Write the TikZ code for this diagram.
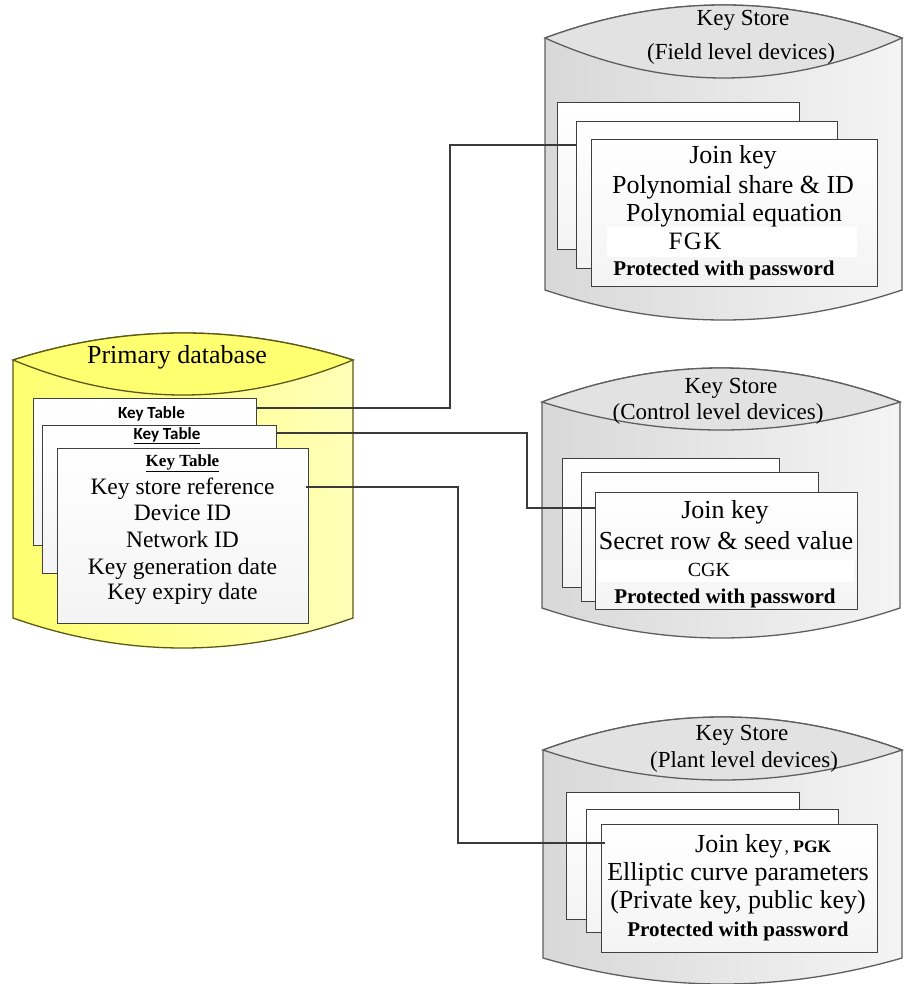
\documentclass[tikz,border=0pt]{standalone}
\usepackage{fontspec}
\setmainfont{Liberation Serif}
\newfontfamily\carl{Carlito}
\definecolor{cardline}{HTML}{404040}
\definecolor{storeline}{HTML}{5E5E5E}
\definecolor{dbline}{HTML}{5A5A14}
\definecolor{dbfill}{HTML}{FFFF70}
\definecolor{dbfill2}{HTML}{FFFFB8}
\definecolor{stfill}{HTML}{D8D8D8}
\definecolor{stfill2}{HTML}{F4F4F4}
\definecolor{stlensc}{HTML}{E2E2E2}
\definecolor{conn}{HTML}{3A3A3A}
\newcommand{\myBig}{\fontsize{26}{28}\selectfont}
\newcommand{\myMid}{\fontsize{23.5}{26}\selectfont}
\newcommand{\myTitle}{\fontsize{23}{25}\selectfont}
\newcommand{\myProt}{\fontsize{21}{23}\selectfont\bfseries}
\newcommand{\myKT}{\fontsize{17}{19}\selectfont\bfseries}
\newcommand{\mycyl}[9]{%
 \pgfmathsetmacro{\cyxa}{#1+(#2-#1)/3}%
 \pgfmathsetmacro{\cyxb}{#1+2*(#2-#1)/3}%
 \pgfmathsetmacro{\cyyt}{#3-4*#4/3}%
 \pgfmathsetmacro{\cyyf}{#3+4*#5/3}%
 \pgfmathsetmacro{\cyyb}{#6+4*#7/3}%
 \path[#8] (#1,#3) .. controls (\cyxa,\cyyt) and (\cyxb,\cyyt) .. (#2,#3) -- (#2,#6) .. controls (\cyxb,\cyyb) and (\cyxa,\cyyb) .. (#1,#6) -- cycle;
 \path[#9] (#1,#3) .. controls (\cyxa,\cyyt) and (\cyxb,\cyyt) .. (#2,#3) .. controls (\cyxb,\cyyf) and (\cyxa,\cyyf) .. (#1,#3) -- cycle;
}
\tikzset{
 card/.style={draw=cardline, line width=1.3pt, top color=white, bottom color=gray!9, anchor=north west, inner sep=0pt},
 dbbody/.style={draw=dbline, line width=1.3pt, left color=dbfill, right color=dbfill2},
 dblens/.style={draw=dbline, line width=1.3pt, left color=dbfill, middle color=dbfill2, right color=dbfill},
 stbody/.style={draw=storeline, line width=1.3pt, left color=stfill, right color=stfill2},
 stlens/.style={draw=storeline, line width=1.3pt, left color=stlensc, middle color=white, right color=stlensc},
 tB/.style={anchor=base, inner sep=0pt, yshift=-8.6pt, font=\myBig},
 tM/.style={anchor=base, inner sep=0pt, yshift=-7.8pt, font=\myMid},
 tT/.style={anchor=base, inner sep=0pt, yshift=-7.6pt, font=\myTitle},
 tP/.style={anchor=base, inner sep=0pt, yshift=-7pt, font=\myProt},
 tK/.style={anchor=base, inner sep=0pt, yshift=-5.6pt},
 wire/.style={draw=conn, line width=1.3pt},
}
\begin{document}
\begin{tikzpicture}[x=1pt,y=-1pt]
\useasboundingbox (0,0) rectangle (904,984);
% ---------- cylinders ----------
\mycyl{13}{353}{360}{27}{35}{618}{30}{dbbody}{dblens}
\mycyl{545}{902}{38}{33}{40}{290}{30}{stbody}{stlens}
\mycyl{542}{900}{402}{34}{28}{608}{30}{stbody}{stlens}
\mycyl{543}{902}{750}{33}{30}{958}{26}{stbody}{stlens}
% ---------- titles ----------
\node[tB] (ptitle) at (177,355) {Primary database};
\node[tT] (f1) at (743,18) {Key Store};
\node[tT] (f2) at (741,52) {(Field level devices)};
\node[tT] (c1) at (731,386) {Key Store};
\node[tT] (c2) at (718,412) {(Control level devices)};
\node[tT] (p1) at (742,733) {Key Store};
\node[tT] (p2) at (744,760) {(Plant level devices)};
% ---------- primary cards ----------
\node[card, minimum width=223pt, minimum height=147pt] (pA) at (33,398) {};
\node[tK] (pAt) at (151.5,413) {\carl\myKT Key Table};
\node[card, minimum width=234pt, minimum height=148pt] (pB) at (42,425) {};
\node[tK] (pBt) at (167,434) {\carl\myKT \underline{Key Table}};
\node[card, minimum width=251pt, minimum height=175pt] (pC) at (57,448) {};
\node[tK] (pCt) at (182.5,461) {\myKT \underline{Key Table}};
\node[tM] (pC1) at (182.5,487) {Key store reference};
\node[tM] (pC2) at (182.5,513) {Device ID};
\node[tM] (pC3) at (182.5,540) {Network ID};
\node[tM] (pC4) at (182.5,567) {Key generation date};
\node[tM] (pC5) at (182.5,592) {Key expiry date};
% ---------- field store cards ----------
\node[card, minimum width=242pt, minimum height=147pt] (fA) at (557,102) {};
\node[card, minimum width=261pt, minimum height=147pt] (fB) at (576,121) {};
\node[card, minimum width=286pt, minimum height=147pt] (fC) at (591,139) {};
\node[tB] (fC1) at (733,155) {Join key};
\node[tB] (fC2) at (733,185) {Polynomial share \& ID};
\node[tB] (fC3) at (734,213) {Polynomial equation};
\node[fill=white, minimum width=250pt, minimum height=29pt, inner sep=0pt] (fCbox) at (732,242) {};
\node[anchor=base, inner sep=0pt, yshift=-8.3pt, font=\fontsize{25}{27}\selectfont] (fC4) at (695,241) {F\kern1.5ptG\kern1.5ptK};
\node[tP] (fC5) at (724,268) {Protected with password};
% ---------- control store cards ----------
\node[card, minimum width=217pt, minimum height=129pt] (cA) at (562,458) {};
\node[card, minimum width=237pt, minimum height=129pt] (cB) at (581,472) {};
\node[card, minimum width=262pt, minimum height=117pt] (cC) at (595,492) {};
\node[tB] (cC1) at (725,510) {Join key};
\node[tB] (cC2) at (726,541) {Secret row \& seed value};
\node[fill=white, minimum width=256pt, minimum height=22pt, inner sep=0pt] (cCbox) at (726,571) {};
\node[anchor=base, inner sep=0pt, yshift=-6.6pt, font=\fontsize{20}{22}\selectfont] (cC3) at (709,570) {CGK};
\node[tP] (cC4) at (725,596) {Protected with password};
% ---------- plant store cards ----------
\node[card, minimum width=233pt, minimum height=127pt] (tA) at (566,792) {};
\node[card, minimum width=252pt, minimum height=123pt] (tB) at (586,809) {};
\node[card, minimum width=276pt, minimum height=128pt] (tC) at (601,824) {};
\node[anchor=base west, inner sep=0pt, yshift=-8.6pt, font=\myBig] (tC1) at (695,844) {Join key\kern2pt{\fontsize{17.5}{19}\selectfont , \bfseries PGK}};
\node[tB] (tC2) at (738,872) {Elliptic curve parameters};
\node[tB] (tC3) at (738,900) {(Private key, public key)};
\node[tP] (tC4) at (738,929) {Protected with password};
% ---------- connectors ----------
\coordinate (k1) at (450,145);
\coordinate (k2) at (527,508);
\coordinate (k3) at (458,843);
\draw[wire] ([yshift=-10pt]pA.north east) -| (k1) -- (fB.west |- k1);
\draw[wire] ([yshift=-8pt]pB.north east) -| (k2) -- (cC.west |- k2);
\draw[wire] ([yshift=-39pt,xshift=-3pt]pC.north east) -| (k3) -- ([xshift=4pt]tC.west |- k3);
\end{tikzpicture}
\end{document}
